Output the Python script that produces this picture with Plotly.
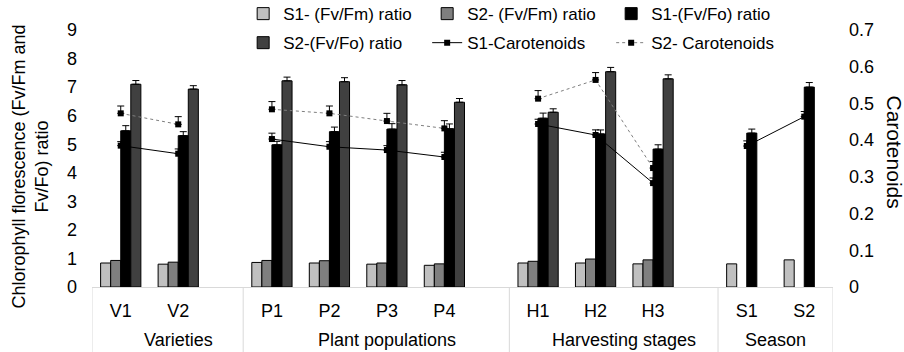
import plotly.graph_objects as go

# ---------------- data ----------------
categories = ["V1", "V2", "P1", "P2", "P3", "P4", "H1", "H2", "H3", "S1", "S2"]
group_names = ["Varieties", "Plant populations", "Harvesting stages", "Season"]
group_sizes = [2, 4, 3, 2]

s1_fvfm = [0.84, 0.80, 0.86, 0.84, 0.80, 0.76, 0.84, 0.84, 0.81, 0.81, 0.95]
s2_fvfm = [0.93, 0.87, 0.93, 0.92, 0.84, 0.81, 0.90, 0.98, 0.95, None, None]
s1_fvfo = [5.47, 5.30, 4.98, 5.44, 5.53, 5.54, 5.91, 5.36, 4.83, 5.39, 7.00]
s1_fvfo_err = [0.18, 0.14, 0.12, 0.16, 0.19, 0.17, 0.18, 0.14, 0.15, 0.14, 0.16]
s2_fvfo = [7.10, 6.93, 7.22, 7.19, 7.08, 6.47, 6.12, 7.54, 7.29, None, None]
s2_fvfo_err = [0.13, 0.12, 0.13, 0.14, 0.15, 0.13, 0.12, 0.15, 0.14, 0, 0]
s1_car = [0.385, 0.363, 0.403, 0.382, 0.373, 0.354, 0.444, 0.414, 0.283, 0.384, 0.464]
s1_car_err = [0.011, 0.013, 0.016, 0.014, 0.012, 0.013, 0.013, 0.014, 0.014, 0.014, 0.014]
s2_car = [0.473, 0.443, 0.484, 0.473, 0.452, 0.432, 0.513, 0.564, 0.324, None, None]
s2_car_err = [0.020, 0.021, 0.021, 0.020, 0.021, 0.021, 0.022, 0.020, 0.018, 0, 0]

left_ticks = [0, 1, 2, 3, 4, 5, 6, 7, 8, 9]
right_ticks = [0, 0.1, 0.2, 0.3, 0.4, 0.5, 0.6, 0.7]

# ---------------- layout helpers ----------------
GAP = 0.63
xpos, first_last = [], []
start = 0.0
for size in group_sizes:
    xs = [start + i for i in range(size)]
    xpos.extend(xs)
    first_last.append((xs[0], xs[-1]))
    start = xs[-1] + 1 + GAP
x_min, x_max = xpos[0] - 0.5, xpos[-1] + 0.5


def gapped(vals):
    """split a series per group so lines do not connect across groups"""
    out_x, out_y = [], []
    idx = 0
    for gi, size in enumerate(group_sizes):
        if gi:
            out_x.append(xpos[idx] - 0.5)
            out_y.append(None)
        out_x.extend(xpos[idx:idx + size])
        out_y.extend(vals[idx:idx + size])
        idx += size
    return out_x, out_y


FONT = "Liberation Sans, Arial, sans-serif"
zeros = [0] * len(categories)

fig = go.Figure()


def add_bar(name, vals, color, legend, err=None):
    kw = {}
    if err is not None:
        kw["error_y"] = dict(type="data", array=err, arrayminus=zeros, symmetric=False,
                             color="black", thickness=1, width=3.5)
    fig.add_trace(go.Bar(name=name, x=xpos, y=vals, legend=legend,
                         marker=dict(color=color, line=dict(color="black", width=1)), **kw))


add_bar("S1- (Fv/Fm) ratio", s1_fvfm, "#c0c0c0", "legend")
add_bar("S2- (Fv/Fm) ratio", s2_fvfm, "#7f7f7f", "legend")
add_bar("S1-(Fv/Fo) ratio", s1_fvfo, "#000000", "legend", s1_fvfo_err)
add_bar("S2-(Fv/Fo) ratio", s2_fvfo, "#404040", "legend2", s2_fvfo_err)

lx, ly = gapped(s1_car)
_, le = gapped(s1_car_err)
fig.add_trace(go.Scatter(name="S1-Carotenoids", x=lx, y=ly, yaxis="y2", legend="legend2",
                         mode="lines+markers", connectgaps=False,
                         line=dict(color="black", width=1),
                         marker=dict(symbol="square", size=6, color="black"),
                         error_y=dict(type="data", array=[e if e is not None else 0 for e in le],
                                      arrayminus=[0] * len(le), symmetric=False,
                                      color="black", thickness=1, width=3.5)))
lx2, ly2 = gapped(s2_car)
_, le2 = gapped(s2_car_err)
fig.add_trace(go.Scatter(name="S2- Carotenoids", x=lx2, y=ly2, yaxis="y2", legend="legend2",
                         mode="lines+markers", connectgaps=False,
                         line=dict(color="#7f7f7f", width=1, dash="dot"),
                         marker=dict(symbol="square", size=6, color="black"),
                         error_y=dict(type="data", array=[e if e is not None else 0 for e in le2],
                                      arrayminus=[0] * len(le2), symmetric=False,
                                      color="black", thickness=1, width=3.5)))

# separators of the multi-level category axis
shapes = []
sep_x = [fl[0] - 0.5 for fl in first_last] + [x_max]
for sx in sep_x:
    shapes.append(dict(type="line", xref="x", yref="paper", x0=sx, x1=sx, y0=0, y1=-0.26,
                       line=dict(color="#d9d9d9", width=1)))

annotations = []
for gi, (name, (f, l)) in enumerate(zip(group_names, first_last)):
    shift = 0.5 if gi < len(group_names) - 1 else 0.0
    annotations.append(dict(text=name, x=(f + l) / 2 + shift, xref="x", y=-0.205, yref="paper",
                            showarrow=False, xanchor="center", yanchor="middle",
                            font=dict(size=18, color="black", family=FONT)))
annotations.append(dict(text="Chlorophyll florescence (Fv/Fm and<br>Fv/Fo) ratio", textangle=-90,
                        x=0, xref="paper", xshift=-62, xanchor="center",
                        y=0.5, yref="paper", yshift=-8, yanchor="middle", showarrow=False,
                        font=dict(size=18, color="black", family=FONT)))
annotations.append(dict(text="Carotenoids", textangle=90,
                        x=1, xref="paper", xshift=61, xanchor="center",
                        y=0.5, yref="paper", yshift=7, yanchor="middle", showarrow=False,
                        font=dict(size=21, color="black", family=FONT)))

legend_common = dict(orientation="h", bgcolor="rgba(0,0,0,0)", entrywidth=139,
                     entrywidthmode="pixels", xanchor="left", yanchor="top",
                     font=dict(size=17, color="black", family=FONT), traceorder="normal")

fig.update_layout(
    width=904, height=352,
    margin=dict(l=92, r=71, t=30, b=65, autoexpand=False),
    paper_bgcolor="white", plot_bgcolor="white",
    barmode="group", bargap=0.3, bargroupgap=0,
    font=dict(family=FONT, size=18, color="black"),
    xaxis=dict(range=[x_min, x_max], tickvals=xpos, ticktext=categories, showgrid=False,
               zeroline=False, showline=True, linecolor="#d9d9d9", linewidth=1, ticks="",
               ticklabelstandoff=7, tickfont=dict(size=18, color="black")),
    yaxis=dict(range=[0, 9], tickvals=left_ticks, showgrid=False, zeroline=False,
               showline=False, ticks="", ticklabelstandoff=14, tickfont=dict(size=18, color="black")),
    yaxis2=dict(range=[0, 0.7], tickvals=right_ticks, overlaying="y", side="right",
                showgrid=False, zeroline=False, showline=False, ticks="", ticklabelstandoff=15,
                tickfont=dict(size=18, color="black")),
    legend=dict(x=0.204, y=1.132, **legend_common),
    legend2=dict(x=0.204, y=1.019, **legend_common),
    shapes=shapes, annotations=annotations,
)

fig.write_html("out.html")
